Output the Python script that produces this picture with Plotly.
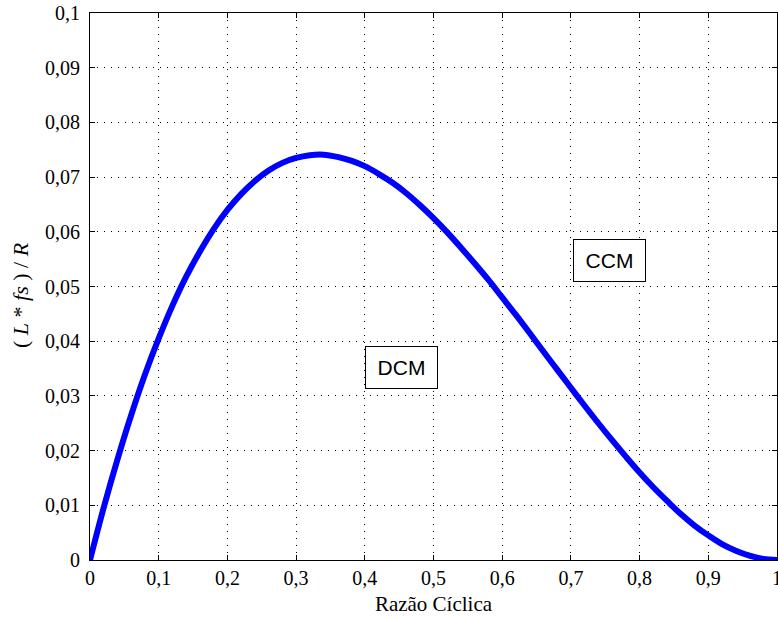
import plotly.graph_objects as go

duty = [0.00, 0.02, 0.04, 0.06, 0.08, 0.10, 0.12, 0.14, 0.16, 0.18,
        0.20, 0.22, 0.24, 0.26, 0.28, 0.30, 0.32, 0.34, 0.36, 0.38,
        0.40, 0.42, 0.44, 0.46, 0.48, 0.50, 0.52, 0.54, 0.56, 0.58,
        0.60, 0.62, 0.64, 0.66, 0.68, 0.70, 0.72, 0.74, 0.76, 0.78,
        0.80, 0.82, 0.84, 0.86, 0.88, 0.90, 0.92, 0.94, 0.96, 0.98, 1.00]
lfs_r = [0.0000, 0.0096, 0.0184, 0.0265, 0.0339, 0.0405, 0.0465, 0.0518, 0.0564, 0.0605,
         0.0640, 0.0669, 0.0693, 0.0712, 0.0726, 0.0735, 0.0740, 0.0741, 0.0737, 0.0730,
         0.0720, 0.0706, 0.0690, 0.0671, 0.0649, 0.0625, 0.0599, 0.0571, 0.0542, 0.0512,
         0.0480, 0.0448, 0.0415, 0.0381, 0.0348, 0.0315, 0.0282, 0.0250, 0.0219, 0.0189,
         0.0160, 0.0133, 0.0108, 0.0084, 0.0063, 0.0045, 0.0029, 0.0017, 0.0008, 0.0002, 0.0000]

x_ticks = [0, 0.1, 0.2, 0.3, 0.4, 0.5, 0.6, 0.7, 0.8, 0.9, 1]
x_labels = ["0", "0,1", "0,2", "0,3", "0,4", "0,5", "0,6", "0,7", "0,8", "0,9", "1"]
y_ticks = [0, 0.01, 0.02, 0.03, 0.04, 0.05, 0.06, 0.07, 0.08, 0.09, 0.1]
y_labels = ["0", "0,01", "0,02", "0,03", "0,04", "0,05", "0,06", "0,07", "0,08", "0,09", "0,1"]

x_title = "Razão Cíclica"
y_title = "( <i>L</i> * <i>fs</i> ) / <i>R</i>"

region_labels = ["DCM", "CCM"]
region_x = [0.4535, 0.7565]
region_y = [0.0352, 0.0548]

SERIF = "Liberation Serif"

fig = go.Figure()
fig.add_trace(go.Scatter(
    x=duty, y=lfs_r, mode="lines",
    line=dict(color="rgb(0,0,255)", width=6, shape="spline"),
    showlegend=False, hoverinfo="skip"))

for t, ax_, ay_ in zip(region_labels, region_x, region_y):
    fig.add_annotation(
        x=ax_, y=ay_, xref="x", yref="y", text=t, showarrow=False,
        font=dict(family="Liberation Sans", size=21, color="black"),
        bgcolor="white", bordercolor="black", borderwidth=1,
        width=69, height=39, align="center", valign="middle")

# y-axis title placed as a rotated annotation
fig.add_annotation(
    x=0, y=0.4845, xref="paper", yref="paper", xanchor="center", yanchor="middle",
    xshift=-69, text=y_title, textangle=-90, showarrow=False,
    font=dict(family=SERIF, size=22, color="black"))

axis_common = dict(
    showline=True, linecolor="black", linewidth=1, mirror="ticks",
    ticks="inside", ticklen=5, tickcolor="black", tickwidth=1,
    showgrid=True, gridcolor="black", gridwidth=1, griddash="1px,6px",
    zeroline=False, automargin=False, ticklabeloverflow="allow",
    tickfont=dict(family=SERIF, size=20, color="black"),
)

fig.update_xaxes(
    range=[0, 1], tickmode="array", tickvals=x_ticks, ticktext=x_labels,
    title=dict(text=x_title, standoff=8,
               font=dict(family=SERIF, size=21, color="black")),
    **axis_common)
fig.update_yaxes(
    range=[0, 0.1], tickmode="array", tickvals=y_ticks, ticktext=y_labels,
    ticklabelstandoff=5,
    **axis_common)

fig.update_layout(
    width=778, height=619,
    margin=dict(l=90, r=1, t=13, b=59),
    plot_bgcolor="white", paper_bgcolor="white",
    font=dict(family=SERIF, size=20, color="black"),
)

fig.write_html("out.html", config={"displayModeBar": False},
               post_script="document.body.style.margin='0';document.body.style.overflow='hidden';")
